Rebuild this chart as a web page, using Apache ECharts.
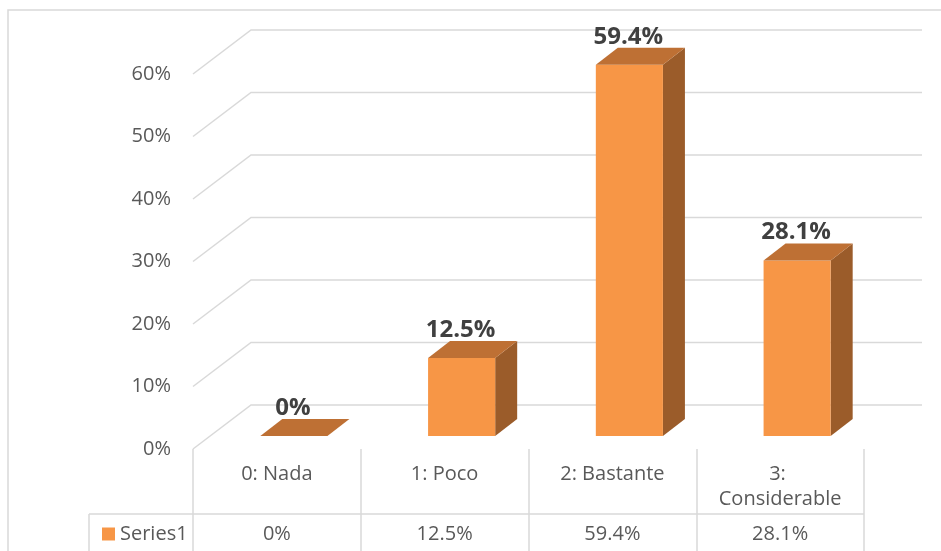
<!DOCTYPE html>
<html>
<head>
<meta charset="utf-8">
<script src="https://cdn.jsdelivr.net/npm/echarts@6/dist/echarts.min.js"></script>
<style>
html,body{margin:0;padding:0;background:#fff;}
#chart{width:941px;height:551px;}
</style>
</head>
<body>
<div id="chart"></div>
<script>
// ---- data ----
const categories = ['0: Nada', '1: Poco', '2: Bastante', '3: Considerable'];
const seriesName = 'Series1';
const values = [0, 12.5, 59.4, 28.1];
const valueLabels = ['0%', '12.5%', '59.4%', '28.1%'];
const yTicks = [0, 10, 20, 30, 40, 50, 60];

// ---- style ----
const FONT = 'Open Sans';
const TXT = '#595959';
const GRID = '#D9D9D9';
const FRONT = '#F79646';
const TOP = '#BE7034';
const SIDE = '#9B5C2A';
// 3D depth offsets (pixels)
const WALL = [58, -44];     // back wall offset from front plane
const BARF = [17, -13];     // bar front face offset
const BARD = [22, -17];     // bar depth

const chart = echarts.init(document.getElementById('chart'));

chart.setOption({
  animation: false,
  backgroundColor: '#fff',
  textStyle: { fontFamily: FONT },
  grid: { left: 193, right: 77, top: 74, bottom: 102, containLabel: false },
  legend: {
    data: [seriesName],
    left: 97, top: 519,
    icon: 'rect', itemWidth: 13, itemHeight: 13,
    textStyle: { fontFamily: FONT, fontSize: 20, color: TXT },
    selectedMode: false
  },
  xAxis: {
    type: 'category',
    data: categories,
    axisLine: { show: false },
    axisTick: { show: true, length: 102, interval: 0, lineStyle: { color: GRID, width: 1.5 } },
    axisLabel: {
      interval: 0, margin: 13, color: TXT, fontFamily: FONT, fontSize: 20,
      width: 140, overflow: 'break', lineHeight: 25, verticalAlign: 'top'
    },
    splitLine: { show: false }
  },
  yAxis: {
    type: 'value', min: 0, max: 60, interval: 10,
    axisLine: { show: false }, axisTick: { show: false },
    splitLine: { show: false },
    axisLabel: { formatter: '{value}%', color: TXT, fontFamily: FONT, fontSize: 20, margin: 22, padding: [5, 0, 0, 0] }
  },
  graphic: [
    { type: 'rect', shape: { x: 8, y: 10, width: 1000, height: 600 },
      style: { fill: 'none', stroke: GRID, lineWidth: 1.5 }, silent: true, z: -10 },
    { type: 'line', shape: { x1: 89, y1: 514, x2: 864, y2: 514 },
      style: { stroke: GRID, lineWidth: 1.5 }, silent: true },
    { type: 'line', shape: { x1: 89, y1: 514, x2: 89, y2: 560 },
      style: { stroke: GRID, lineWidth: 1.5 }, silent: true }
  ],
  series: [
    {
      type: 'custom',
      name: 'gridlines',
      silent: true,
      z: 1,
      data: yTicks.map(v => [0, v]),
      renderItem: function (params, api) {
        const cs = params.coordSys;
        const p = api.coord([0, api.value(1)]);
        const gx = cs.x, gw = cs.width;
        return {
          type: 'polyline',
          shape: { points: [[gx, p[1]], [gx + WALL[0], p[1] + WALL[1]], [gx + gw + WALL[0], p[1] + WALL[1]]] },
          style: { stroke: GRID, lineWidth: 1.5, fill: 'none' }
        };
      }
    },
    {
      type: 'custom',
      name: seriesName,
      z: 3,
      itemStyle: { color: FRONT },
      data: values.map((v, i) => [i, v]),
      renderItem: function (params, api) {
        const i = api.value(0), v = api.value(1);
        const base = api.coord([i, 0]);
        const top = api.coord([i, v]);
        const bw = api.size([1, 0])[0] * 0.4;
        const x0 = base[0] + BARF[0] - bw / 2, x1 = x0 + bw;
        const yb = base[1] + BARF[1], yt = top[1] + BARF[1];
        const dx = BARD[0], dy = BARD[1];
        const children = [];
        if (yb - yt > 0.5) {
          children.push({ type: 'polygon', shape: { points: [[x1, yt], [x1 + dx, yt + dy], [x1 + dx, yb + dy], [x1, yb]] }, style: { fill: SIDE } });
          children.push({ type: 'rect', shape: { x: x0, y: yt, width: bw, height: yb - yt }, style: { fill: FRONT } });
        }
        children.push({ type: 'polygon', shape: { points: [[x0, yt], [x1, yt], [x1 + dx, yt + dy], [x0 + dx, yt + dy]] }, style: { fill: TOP } });
        children.push({ type: 'text', style: {
          text: valueLabels[i], x: (x0 + x1) / 2 - 1, y: yt + dy - 11,
          align: 'center', verticalAlign: 'middle',
          fontFamily: FONT, fontSize: 24, fontWeight: 'bold', fill: '#404040'
        } });
        // data table value
        children.push({ type: 'text', style: {
          text: valueLabels[i], x: base[0], y: base[1] + 85,
          align: 'center', verticalAlign: 'middle',
          fontFamily: FONT, fontSize: 20, fill: TXT
        } });
        return { type: 'group', children: children };
      }
    }
  ]
});
</script>
</body>
</html>
